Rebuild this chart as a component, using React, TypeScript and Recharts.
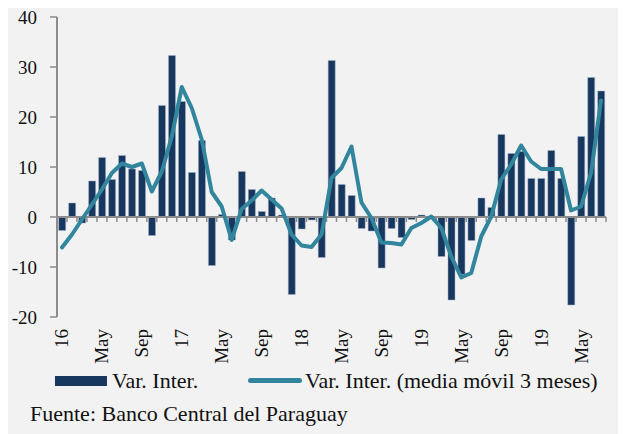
import { ComposedChart, Bar, Line, XAxis, YAxis, ReferenceLine, Legend } from "recharts";

const FONT = '"Liberation Serif", "Times New Roman", serif';
const NAVY = "#17375e";
const TEAL = "#31859c";
const AXIS = "#8c8c8c";

const years = ["2016", "2017", "2018", "2019", "2020"];
const monthNames = ["Ene", "Feb", "Mar", "Abr", "May", "Jun", "Jul", "Ago", "Sep", "Oct", "Nov", "Dic"];
const periods = years.flatMap((y) => monthNames.map((m) => `${m} ${y}`)).slice(0, 55);

const varInter = [
  -2.7, 2.8, -1.2, 7.2, 11.9, 7.5, 12.3, 9.6, 9.3, -3.7, 22.3, 32.3,
  23.1, 8.9, 15.3, -9.7, 0.5, -4.6, 9.1, 5.5, 1.1, 3.8, 0.4, -15.5,
  -2.4, -0.6, -8.1, 31.3, 6.5, 4.3, -2.3, -2.8, -10.2, -2.3, -4.1, -0.5,
  0.4, -0.3, -7.9, -16.6, -11.5, -4.7, 3.8, 1.9, 16.5, 12.7, 13.1, 7.7,
  7.7, 13.3, 7.7, -17.6, 16.1, 27.9, 25.2,
];

const mediaMovil = [
  -6.1, -3.5, -0.5, 2.5, 5.5, 8.8, 10.7, 10.0, 10.7, 5.1, 9.1, 16.1,
  26.0, 21.8, 15.5, 5.0, 2.1, -4.6, 1.6, 3.3, 5.3, 3.5, 1.7, -3.5,
  -5.7, -6.0, -3.5, 7.8, 9.8, 14.1, 2.9, -0.2, -5.1, -5.2, -5.5, -2.2,
  -1.2, 0.1, -2.2, -7.9, -12.1, -11.2, -3.9, 0.1, 7.5, 10.5, 14.3, 11.1,
  9.6, 9.6, 9.6, 1.3, 2.1, 8.8, 23.3,
];

const tickPeriods = [
  "Ene 2016", "May 2016", "Sep 2016", "Ene 2017", "May 2017", "Sep 2017", "Ene 2018",
  "May 2018", "Sep 2018", "Ene 2019", "May 2019", "Sep 2019", "Ene 2020", "May 2020",
];
const tickLabels = ["16", "May", "Sep", "17", "May", "Sep", "18", "May", "Sep", "19", "May", "Sep", "19", "May"];

const yTicks = [-20, -10, 0, 10, 20, 30, 40];

const data = periods.map((p, i) => ({ period: p, var: varInter[i], mm: mediaMovil[i] }));

function MonthTick({ x, y, payload }: any) {
  const label = tickLabels[tickPeriods.indexOf(payload.value)] ?? "";
  return (
    <text
      transform={`translate(${x},${y}) rotate(-90)`}
      textAnchor="end"
      dominantBaseline="central"
      fontFamily={FONT}
      fontSize={19}
      fill="#111"
    >
      {label}
    </text>
  );
}

// zero line with small tick marks between months
function ZeroAxis(props: any) {
  const { x1, x2, y1 } = props;
  const n = periods.length;
  const step = (x2 - x1) / n;
  return (
    <g>
      {periods.map((p, k) => (
        <line key={p} x1={x1 + (k + 1) * step} x2={x1 + (k + 1) * step} y1={y1} y2={y1 + 5} stroke={AXIS} strokeWidth={1.5} />
      ))}
      <line x1={x1} x2={x2} y1={y1} y2={y1} stroke={AXIS} strokeWidth={2} />
    </g>
  );
}

function LegendBox({ payload }: any) {
  const items = payload ?? [];
  const bar = items.find((it: any) => it.dataKey === "var");
  const line = items.find((it: any) => it.dataKey === "mm");
  const txt = { position: "absolute" as const, top: 2, fontFamily: FONT, fontSize: 22, lineHeight: "26px", color: "#111", whiteSpace: "nowrap" as const };
  return (
    <div style={{ position: "relative", width: 618, height: 30 }}>
      <div style={{ position: "absolute", left: 47, top: 10, width: 52, height: 10, background: NAVY }} />
      <div style={{ ...txt, left: 104 }}>{bar?.value}</div>
      <div style={{ position: "absolute", left: 240, top: 12, width: 54, height: 5, borderRadius: 3, background: TEAL }} />
      <div style={{ ...txt, left: 297 }}>{line?.value}</div>
    </div>
  );
}

export default function App() {
  return (
    <div style={{ position: "relative", marginTop: -8, width: 618, height: 434, background: "#f2f2f2" }}>
      <ComposedChart
        width={618}
        height={434}
        data={data}
        margin={{ top: 17, right: 20, left: 0, bottom: 57 }}
        barCategoryGap="17%"
      >
        <YAxis
          domain={[-20, 40]}
          ticks={yTicks}
          width={49}
          axisLine={{ stroke: AXIS, strokeWidth: 2 }}
          tickLine={{ stroke: AXIS, strokeWidth: 1.5 }}
          tickSize={7}
          tickMargin={13}
          tick={{ fontFamily: FONT, fontSize: 19, fill: "#111" }}
        />
        <XAxis
          dataKey="period"
          ticks={tickPeriods}
          interval={0}
          height={60}
          axisLine={false}
          tickLine={false}
          tickSize={0}
          tickMargin={12}
          tick={<MonthTick />}
        />
        <Bar dataKey="var" name="Var. Inter." fill={NAVY} stroke="#9fb0c8" strokeWidth={0.5} isAnimationActive={false} />
        <ReferenceLine y={0} shape={<ZeroAxis />} />
        <Line
          dataKey="mm"
          name="Var. Inter. (media móvil 3 meses)"
          type="linear"
          stroke={TEAL}
          strokeWidth={4}
          strokeLinejoin="round"
          strokeLinecap="round"
          dot={false}
          isAnimationActive={false}
        />
        <Legend
          layout="horizontal"
          verticalAlign="middle"
          align="center"
          content={<LegendBox />}
          wrapperStyle={{ top: 366, left: 0, width: 618, height: 30 }}
        />
      </ComposedChart>
      <div
        style={{
          position: "absolute",
          left: 22,
          top: 401,
          fontFamily: FONT,
          fontSize: 22,
          lineHeight: "26px",
          color: "#111",
          whiteSpace: "nowrap",
        }}
      >
        Fuente: Banco Central del Paraguay
      </div>
    </div>
  );
}
